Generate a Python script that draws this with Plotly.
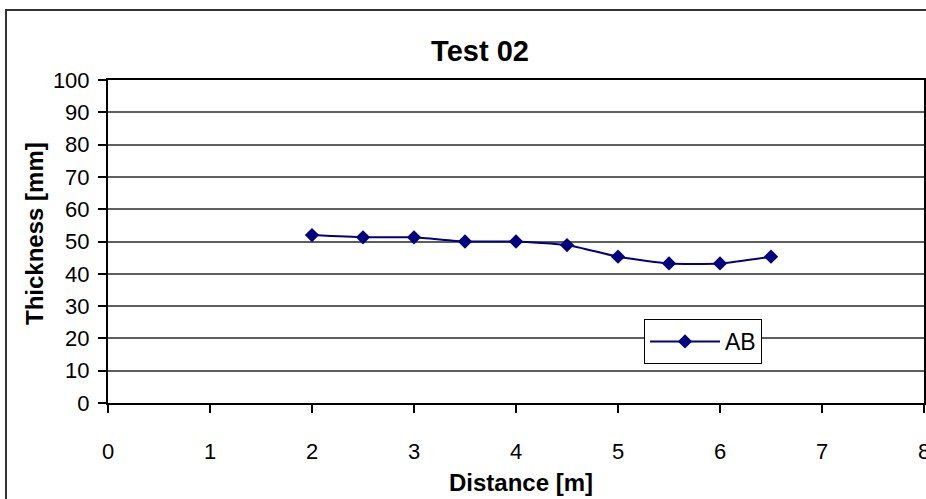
import plotly.graph_objects as go

# Measured wall thickness along the test section
distance_m = [2.0, 2.5, 3.0, 3.5, 4.0, 4.5, 5.0, 5.5, 6.0, 6.5]
thickness_mm = [52.0, 51.3, 51.3, 50.0, 50.0, 48.9, 45.3, 43.2, 43.2, 45.3]
series_name = "AB"

x_ticks = [0, 1, 2, 3, 4, 5, 6, 7, 8]
y_ticks = [0, 10, 20, 30, 40, 50, 60, 70, 80, 90, 100]

FONT = "Liberation Sans, Arial, sans-serif"
NAVY = "#000080"

W, H = 926, 499
ML, MT, MR, MB = 108, 80, 2, 96
PW, PH = W - ML - MR, H - MT - MB


def px_to_paper_x(px):
    return (px - ML) / PW


def px_to_paper_y(py):
    return (H - MB - py) / PH


fig = go.Figure()
fig.add_trace(go.Scatter(
    x=distance_m,
    y=thickness_mm,
    name=series_name,
    mode="lines+markers",
    line=dict(color=NAVY, width=2, shape="spline", smoothing=0.5),
    marker=dict(symbol="diamond", size=11, color=NAVY),
))

axis_common = dict(
    showline=True, linecolor="black", linewidth=2, mirror=True,
    ticks="outside", ticklen=8, tickwidth=1.5, tickcolor="black",
    tickfont=dict(family=FONT, size=22, color="black"),
    zeroline=False, ticklabeloverflow="allow", automargin=False,
)

fig.update_xaxes(
    range=[0, 8], tickvals=x_ticks, showgrid=False,
    ticklabelstandoff=20,
    **axis_common,
)
fig.update_yaxes(
    range=[0, 100], tickvals=y_ticks, showgrid=True,
    gridcolor="#5e5e5e", gridwidth=1.5,
    ticklabelstandoff=4,
    **axis_common,
)

fig.update_layout(
    width=W, height=H,
    margin=dict(l=ML, r=MR, t=MT, b=MB, autoexpand=False),
    paper_bgcolor="white", plot_bgcolor="white",
    title=dict(text="<b>Test 02</b>", font=dict(family=FONT, size=29, color="black"),
               x=px_to_paper_x(480), xref="paper", xanchor="center",
               y=1 - 51 / H, yanchor="middle"),
    showlegend=True,
    legend=dict(
        x=px_to_paper_x(644), y=px_to_paper_y(319), xanchor="left", yanchor="top",
        bordercolor="black", borderwidth=1, bgcolor="white",
        font=dict(family=FONT, size=23, color="black"),
        itemwidth=70,
    ),
    annotations=[
        dict(text="<b>Distance [m]</b>", xref="paper", yref="paper",
             x=px_to_paper_x(521), y=px_to_paper_y(482),
             xanchor="center", yanchor="middle", showarrow=False,
             font=dict(family=FONT, size=24, color="black")),
        dict(text="<b>Thickness [mm]</b>", xref="paper", yref="paper",
             x=px_to_paper_x(35), y=px_to_paper_y(234), textangle=-90,
             xanchor="center", yanchor="middle", showarrow=False,
             font=dict(family=FONT, size=24, color="black")),
    ],
    shapes=[dict(
        type="rect", xref="paper", yref="paper",
        x0=px_to_paper_x(6), x1=px_to_paper_x(940),
        y0=px_to_paper_y(510), y1=px_to_paper_y(10),
        line=dict(color="#333333", width=2), layer="below",
    )],
)

fig.write_html("out.html")
